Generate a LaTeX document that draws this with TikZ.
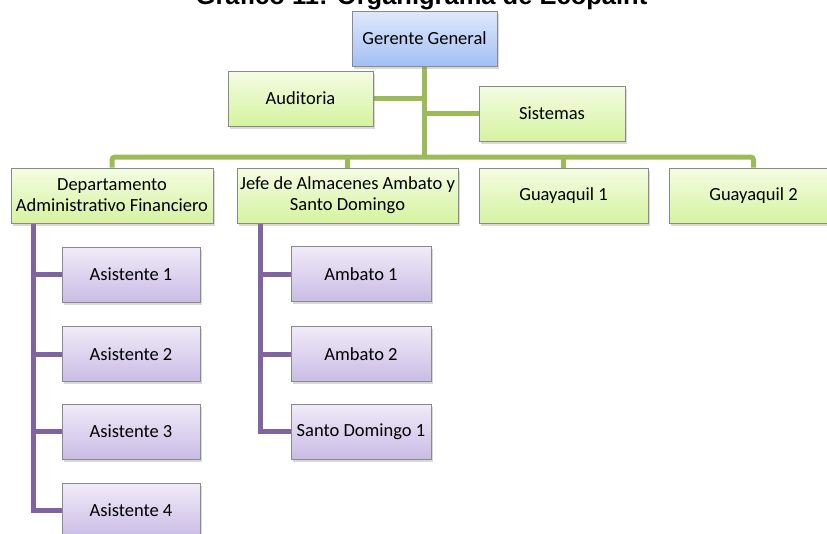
\documentclass[tikz,border=0pt]{standalone}
\usepackage{fontspec}
\setmainfont{Carlito}
\newfontfamily\titlefont{Liberation Sans}
\usetikzlibrary{shadows}
\pgfdeclarelayer{bg}
\pgfsetlayers{bg,main}
\definecolor{grline}{HTML}{9BBB59}
\definecolor{puline}{HTML}{8064A2}
\definecolor{bdr}{HTML}{8A8A8A}
\definecolor{gtop}{HTML}{F4FCE3}
\definecolor{gbot}{HTML}{D5F3A0}
\definecolor{btop}{HTML}{DEE8FC}
\definecolor{bbot}{HTML}{A3C0F3}
\definecolor{ptop}{HTML}{F0EBF8}
\definecolor{pbot}{HTML}{CABCE5}
\tikzset{
  box/.style={draw=bdr, line width=0.8pt, inner sep=1pt, align=center,
    font=\fontsize{18.5}{21}\selectfont, minimum height=55pt,
    drop shadow={shadow xshift=1.5pt, shadow yshift=-2.5pt, opacity=0.3}},
  gbox/.style={box, top color=gtop, bottom color=gbot},
  bbox/.style={box, top color=btop, bottom color=bbot},
  pbox/.style={box, top color=ptop, bottom color=pbot},
  gline/.style={draw=grline, line width=5pt, rounded corners=3pt},
  pline/.style={draw=puline, line width=5pt},
}
\begin{document}
\begin{tikzpicture}[x=1pt,y=-1pt]
\useasboundingbox (0,0) rectangle (827,533);
\clip (0,0) rectangle (827,533);
\node[font=\titlefont\bfseries\fontsize{25.5}{30}\selectfont, anchor=base, inner sep=0pt] (title) at (421.5,4.5) {Gráfico 11: Organigrama de Ecopaint};
\node[bbox, minimum width=145pt] (gg) at (424.5,38.5) {Gerente General};
\node[gbox, minimum width=145pt] (aud) at (300.5,98.5) {Auditoria};
\node[gbox, minimum width=146pt] (sis) at (552,113.5) {Sistemas};
\node[gbox, minimum width=202pt] (dep) at (112,195.5) {Departamento\\Administrativo Financiero};
\node[gbox, minimum width=221pt] (jefe) at (347.5,195.5) {Jefe de Almacenes Ambato y\\Santo Domingo};
\node[gbox, minimum width=169pt] (g1) at (563.5,195.5) {Guayaquil 1};
\node[gbox, minimum width=169pt] (g2) at (753.5,195.5) {Guayaquil 2};
\node[pbox, minimum width=138pt] (a1) at (131,274.5) {Asistente 1};
\node[pbox, minimum width=138pt] (a2) at (131,354) {Asistente 2};
\node[pbox, minimum width=138pt] (a3) at (131,431.5) {Asistente 3};
\node[pbox, minimum width=138pt] (a4) at (131,510.5) {Asistente 4};
\node[pbox, minimum width=140pt] (m1) at (361,274) {Ambato 1};
\node[pbox, minimum width=140pt] (m2) at (361,354) {Ambato 2};
\node[pbox, minimum width=140pt] (sd) at (361,431.5) {Santo Domingo 1};
\coordinate (bus) at (0,157);
\coordinate (dv) at (33,223);
\coordinate (jv) at (260,223);
\begin{pgfonlayer}{bg}
\draw[gline] (gg.south) -- (gg.south |- bus);
\draw[gline] (aud.east) -- (aud.east -| gg.south);
\draw[gline] (sis.west) -- (sis.west -| gg.south);
\draw[gline] (dep.north) -- (dep.north |- bus) -- (g2.north |- bus) -- (g2.north);
\draw[gline] (jefe.north) -- (jefe.north |- bus);
\draw[gline] (g1.north) -- (g1.north |- bus);
\draw[pline] (dv) |- (a4.west);
\draw[pline] (dv) |- (a1.west);
\draw[pline] (dv) |- (a2.west);
\draw[pline] (dv) |- (a3.west);
\draw[pline] (jv) |- (sd.west);
\draw[pline] (jv) |- (m1.west);
\draw[pline] (jv) |- (m2.west);
\end{pgfonlayer}
\end{tikzpicture}
\end{document}
